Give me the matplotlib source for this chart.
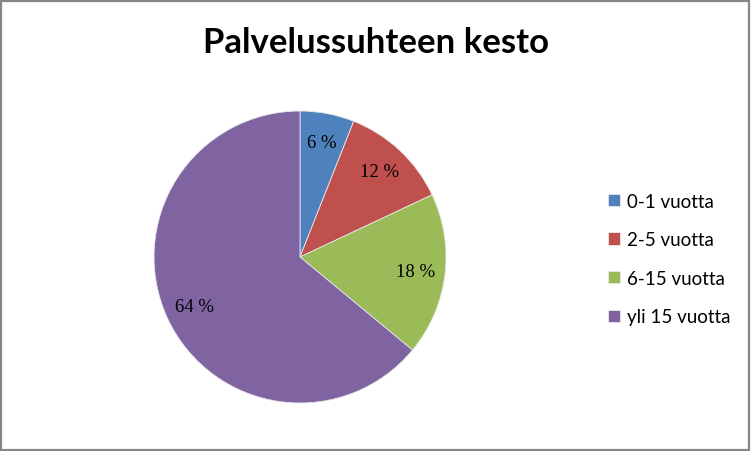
import matplotlib.pyplot as plt
from matplotlib.patches import Rectangle

labels = ['0-1 vuotta', '2-5 vuotta', '6-15 vuotta', 'yli 15 vuotta']
values = [6, 12, 18, 64]
colors = ['#4F81BD', '#C0504D', '#9BBB59', '#8064A2']
title = 'Palvelussuhteen kesto'

fig = plt.figure(figsize=(7.52, 4.52), dpi=100)
fig.patches.append(Rectangle((0.0015, 0.002), 0.995, 0.994, transform=fig.transFigure,
                             fill=False, edgecolor='#868686', linewidth=1.6))

ax = fig.add_axes([0.2048, 0.1062, 0.3883, 0.646])
wedges, texts, autotexts = ax.pie(values, colors=colors, startangle=90, counterclock=False,
                                  autopct=lambda p: '%d %%' % round(p), pctdistance=0.8,
                                  wedgeprops=dict(edgecolor='#e8e8e8', linewidth=0.6))
for t in autotexts:
    t.set_fontfamily('Liberation Serif')
    t.set_fontsize(13.5)
    t.set_color('black')
ax.set_xlim(-1, 1)
ax.set_ylim(-1, 1)
ax.set_aspect('equal')

fig.text(0.5, 0.905, title, ha='center', va='center', fontsize=25,
         fontweight='bold', fontfamily='Lato')

fig.legend(wedges, labels, loc='center left', bbox_to_anchor=(0.786, 0.425),
           frameon=False, prop={'family': 'Lato', 'size': 13.5},
           handlelength=0.62, handleheight=0.62, handletextpad=0.4, labelspacing=1.15)

fig.savefig('out.png', dpi=100)
